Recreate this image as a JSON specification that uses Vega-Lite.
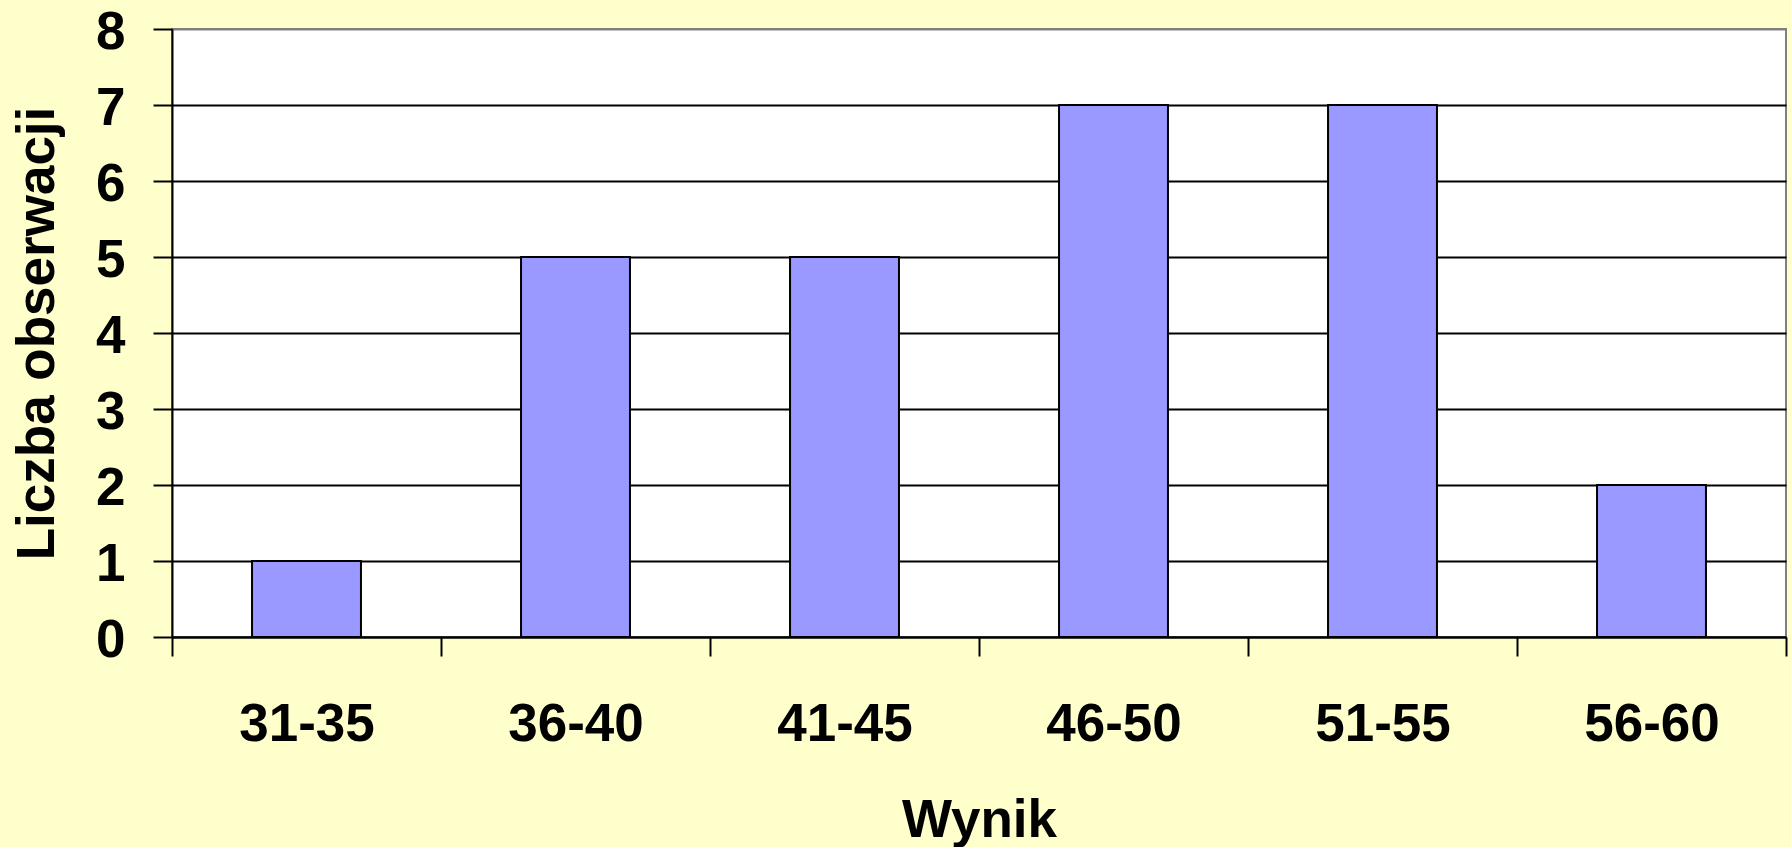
{
  "$schema": "https://vega.github.io/schema/vega-lite/v6.json",
  "autosize": "none",
  "padding": {"left": 172, "top": 29, "right": 5, "bottom": 210},
  "width": 1614,
  "height": 608,
  "background": "#FFFFCC",
  "data": {
    "values": [
      {"Wynik": "31-35", "Liczba": 1},
      {"Wynik": "36-40", "Liczba": 5},
      {"Wynik": "41-45", "Liczba": 5},
      {"Wynik": "46-50", "Liczba": 7},
      {"Wynik": "51-55", "Liczba": 7},
      {"Wynik": "56-60", "Liczba": 2}
    ]
  },
  "mark": {"type": "bar", "fill": "#9999FF", "stroke": "#000000", "strokeWidth": 2, "width": {"band": 0.405}},
  "encoding": {
    "x": {
      "field": "Wynik",
      "type": "ordinal",
      "sort": null,
      "scale": {"paddingInner": 0, "paddingOuter": 0},
      "axis": {
        "title": "Wynik",
        "labelAngle": 0,
        "tickBand": "extent",
        "tickSize": 19,
        "tickWidth": 2,
        "tickColor": "#000000",
        "domainColor": "#000000",
        "domainWidth": 2,
        "labelPadding": 42,
        "labelFont": "Liberation Sans",
        "labelFontWeight": "bold",
        "labelFontSize": 53,
        "labelColor": "#000000",
        "titleFont": "Liberation Sans",
        "titleFontWeight": "bold",
        "titleFontSize": 53,
        "titleColor": "#000000",
        "titleBaseline": "top",
        "titleY": 157,
        "grid": false
      }
    },
    "y": {
      "field": "Liczba",
      "type": "quantitative",
      "scale": {"domain": [0, 8], "nice": false},
      "axis": {
        "title": "Liczba obserwacji",
        "values": [0, 1, 2, 3, 4, 5, 6, 7, 8],
        "tickSize": 19,
        "tickWidth": 2,
        "tickColor": "#000000",
        "domainColor": "#000000",
        "domainWidth": 2,
        "grid": true,
        "gridColor": {"condition": {"test": "datum.value == 8", "value": "#808080"}, "value": "#000000"},
        "gridWidth": 2,
        "gridOpacity": 1,
        "labelPadding": 28,
        "labelFont": "Liberation Sans",
        "labelFontWeight": "bold",
        "labelFontSize": 53,
        "labelColor": "#000000",
        "labelOffset": 3,
        "titleFont": "Liberation Sans",
        "titleFontWeight": "bold",
        "titleFontSize": 53,
        "titleColor": "#000000",
        "titleAngle": -90,
        "titleBaseline": "top",
        "titleAlign": "center",
        "titleX": -161,
        "titleY": 304
      }
    }
  },
  "config": {
    "view": {"fill": "#FFFFFF", "stroke": "#808080", "strokeWidth": 2}
  }
}
